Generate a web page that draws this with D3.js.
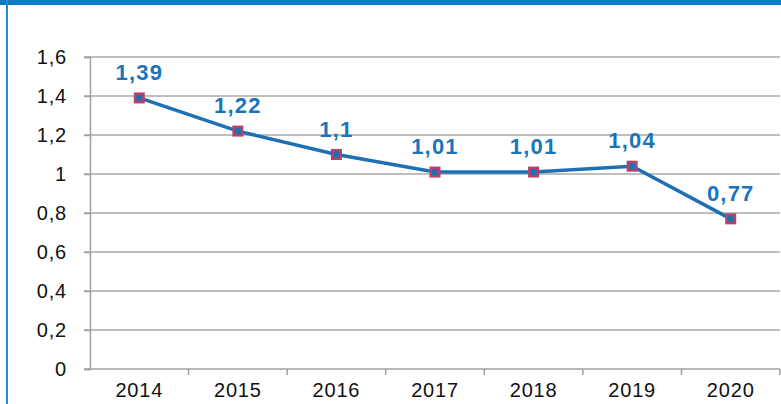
<!DOCTYPE html>
<html>
<head>
<meta charset="utf-8">
<script src="https://cdn.jsdelivr.net/npm/d3@7"></script>
<style>
  body { margin: 0; background: #fff; }
  svg { display: block; font-family: 'Liberation Sans', Arial, sans-serif; }
</style>
</head>
<body>
<div id="chart"></div>
<script>
const years = ['2014', '2015', '2016', '2017', '2018', '2019', '2020'];
const values = [1.39, 1.22, 1.1, 1.01, 1.01, 1.04, 0.77];
const labels = ['1,39', '1,22', '1,1', '1,01', '1,01', '1,04', '0,77'];
const yTicks = [0, 0.2, 0.4, 0.6, 0.8, 1, 1.2, 1.4, 1.6];

const width = 781, height = 404;
const margin = {top: 57, right: 1, bottom: 35, left: 90};
const innerW = width - margin.left - margin.right;
const innerH = height - margin.top - margin.bottom;

const svg = d3.select('#chart').append('svg')
  .attr('width', width)
  .attr('height', height);

// frame: blue top strip and left border
svg.append('rect').attr('x', 0).attr('y', 0).attr('width', width).attr('height', 5).attr('fill', '#0a7cc4');
svg.append('rect').attr('x', 6).attr('y', 0).attr('width', 2).attr('height', height).attr('fill', '#2a8ad0');

const g = svg.append('g').attr('transform', `translate(${margin.left},${margin.top})`);

const y = d3.scaleLinear().domain([0, 1.6]).range([innerH, 0]);
const x = d3.scaleBand().domain(years).range([0, innerW]);

const fmt = d => d3.format('.1f')(d).replace('.', ',').replace(/,0$/, '');

// gridlines
g.selectAll('.grid').data(yTicks.filter(d => d > 0)).enter().append('line')
  .attr('x1', -6).attr('x2', innerW)
  .attr('y1', d => y(d)).attr('y2', d => y(d))
  .attr('stroke', '#a9a9a9').attr('stroke-width', 1.5);

// y axis
const yAxis = g.append('g').call(d3.axisLeft(y).tickValues(yTicks).tickFormat(fmt).tickSize(6).tickPadding(17));
yAxis.select('.domain').attr('stroke', '#a0a0a0').attr('stroke-width', 1.5);
yAxis.selectAll('.tick line').attr('stroke', '#a0a0a0').attr('stroke-width', 1.5);
yAxis.selectAll('text').attr('font-size', 20).attr('letter-spacing', 0.8).attr('fill', '#111');

// x axis
const xAxis = g.append('g').attr('transform', `translate(0,${innerH})`)
  .call(d3.axisBottom(x).tickSize(0).tickPadding(14));
xAxis.select('.domain').remove();
xAxis.selectAll('text').attr('font-size', 20).attr('letter-spacing', 0.8).attr('fill', '#111');
g.append('line').attr('x1', -6).attr('x2', innerW).attr('y1', innerH).attr('y2', innerH)
  .attr('stroke', '#a0a0a0').attr('stroke-width', 1.5);
g.selectAll('.xtick').data(years.slice(1).concat(['end'])).enter().append('line')
  .attr('x1', (d, i) => x.step() * (i + 1)).attr('x2', (d, i) => x.step() * (i + 1))
  .attr('y1', innerH).attr('y2', innerH + 6)
  .attr('stroke', '#a0a0a0').attr('stroke-width', 1.5);

const cx = d => x(d) + x.bandwidth() / 2;

// line
const line = d3.line().x((d, i) => cx(years[i])).y(d => y(d));
g.append('path').datum(values)
  .attr('d', line).attr('fill', 'none')
  .attr('stroke', '#1e6fb4').attr('stroke-width', 3.5);

// markers
g.selectAll('.mk').data(values).enter().append('rect')
  .attr('x', (d, i) => cx(years[i]) - 5.5).attr('y', d => y(d) - 5.5)
  .attr('width', 11).attr('height', 11)
  .attr('fill', '#b8406a');
g.selectAll('.mk2').data(values).enter().append('rect')
  .attr('x', (d, i) => cx(years[i]) - 3).attr('y', d => y(d) - 3)
  .attr('width', 6).attr('height', 6)
  .attr('fill', '#1e6fb4');

// value labels
g.selectAll('.lbl').data(values).enter().append('text')
  .attr('x', (d, i) => cx(years[i]))
  .attr('y', d => y(d) - 18)
  .attr('text-anchor', 'middle')
  .attr('font-size', 22).attr('font-weight', 'bold')
  .attr('letter-spacing', 1.2)
  .attr('fill', '#1a74bb')
  .text((d, i) => labels[i]);
</script>
</body>
</html>
